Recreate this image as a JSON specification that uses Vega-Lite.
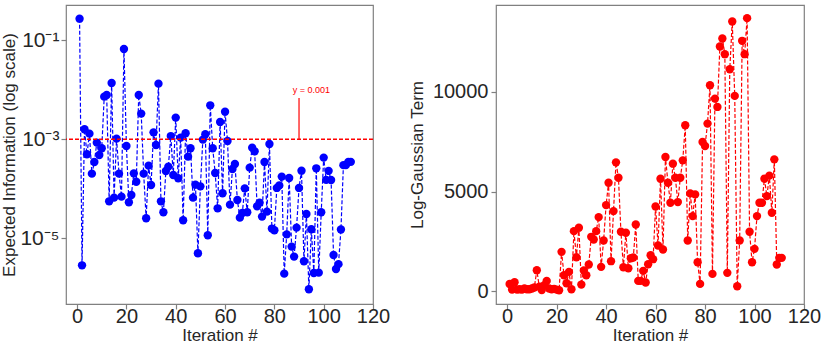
{
  "$schema": "https://vega.github.io/schema/vega-lite/v6.json",
  "padding": {"left": 0, "top": 4, "right": 2, "bottom": 0},
  "background": "white",
  "bounds": "flush",
  "spacing": 123,
  "config": {
    "font": "Liberation Sans",
    "view": {"stroke": "#808080", "strokeWidth": 1.2},
    "axis": {
      "grid": false,
      "domain": false,
      "tickColor": "#808080",
      "tickSize": 5,
      "tickWidth": 1.2,
      "labelFontSize": 20,
      "labelColor": "#262626",
      "labelOverlap": false,
      "labelFlush": false,
      "titleFontSize": 17,
      "titleFontWeight": "normal",
      "titleColor": "#262626",
      "labelFont": "Liberation Sans",
      "titleFont": "Liberation Sans"
    }
  },
  "datasets": {
    "info": [
      {"it": 1, "v": 0.273}, {"it": 2, "v": 2.84e-6}, {"it": 3, "v": 1.59e-3}, {"it": 4, "v": 4.97e-4}, {"it": 5, "v": 1.30e-3},
      {"it": 6, "v": 2.02e-4}, {"it": 7, "v": 3.48e-4}, {"it": 8, "v": 8.55e-4}, {"it": 9, "v": 4.82e-4}, {"it": 10, "v": 6.57e-4},
      {"it": 11, "v": 7.26e-3}, {"it": 12, "v": 7.85e-3}, {"it": 13, "v": 5.58e-5}, {"it": 14, "v": 1.37e-2}, {"it": 15, "v": 6.62e-5},
      {"it": 16, "v": 1.03e-3}, {"it": 17, "v": 2.02e-4}, {"it": 18, "v": 6.93e-5}, {"it": 19, "v": 6.68e-2}, {"it": 20, "v": 7.31e-4},
      {"it": 21, "v": 5.33e-5}, {"it": 22, "v": 7.49e-5}, {"it": 23, "v": 2.05e-4}, {"it": 24, "v": 1.39e-4}, {"it": 25, "v": 7.85e-3},
      {"it": 26, "v": 3.30e-3}, {"it": 27, "v": 2.02e-4}, {"it": 28, "v": 2.54e-5}, {"it": 29, "v": 2.93e-4}, {"it": 30, "v": 1.19e-4},
      {"it": 31, "v": 1.38e-3}, {"it": 32, "v": 7.67e-4}, {"it": 33, "v": 1.33e-2}, {"it": 34, "v": 5.58e-5}, {"it": 35, "v": 3.35e-5},
      {"it": 36, "v": 2.29e-4}, {"it": 37, "v": 2.80e-4}, {"it": 38, "v": 1.16e-3}, {"it": 39, "v": 1.90e-4}, {"it": 40, "v": 2.74e-3},
      {"it": 41, "v": 1.63e-4}, {"it": 42, "v": 1.08e-3}, {"it": 43, "v": 2.31e-5}, {"it": 44, "v": 1.32e-3}, {"it": 45, "v": 4.46e-4},
      {"it": 46, "v": 6.57e-4}, {"it": 47, "v": 6.62e-5}, {"it": 48, "v": 1.21e-4}, {"it": 49, "v": 4.97e-6}, {"it": 50, "v": 1.12e-4},
      {"it": 51, "v": 9.84e-4}, {"it": 52, "v": 1.26e-3}, {"it": 53, "v": 1.15e-5}, {"it": 54, "v": 4.85e-3}, {"it": 55, "v": 6.57e-4},
      {"it": 56, "v": 2.08e-4}, {"it": 57, "v": 4.03e-5}, {"it": 58, "v": 2.24e-3}, {"it": 59, "v": 8.10e-5}, {"it": 60, "v": 3.61e-3},
      {"it": 61, "v": 9.24e-4}, {"it": 62, "v": 4.78e-5}, {"it": 63, "v": 2.51e-4}, {"it": 64, "v": 3.17e-4}, {"it": 65, "v": 5.94e-5},
      {"it": 66, "v": 2.61e-5}, {"it": 67, "v": 3.25e-5}, {"it": 68, "v": 1.02e-4}, {"it": 69, "v": 3.35e-5}, {"it": 70, "v": 2.67e-4},
      {"it": 71, "v": 6.78e-4}, {"it": 72, "v": 5.71e-4}, {"it": 73, "v": 4.42e-5}, {"it": 74, "v": 5.25e-5}, {"it": 75, "v": 2.74e-5},
      {"it": 76, "v": 3.48e-4}, {"it": 77, "v": 3.45e-5}, {"it": 78, "v": 8.04e-4}, {"it": 79, "v": 1.57e-5}, {"it": 80, "v": 1.45e-5},
      {"it": 81, "v": 1.04e-4}, {"it": 82, "v": 1.17e-4}, {"it": 83, "v": 1.76e-4}, {"it": 84, "v": 1.93e-6}, {"it": 85, "v": 1.20e-5},
      {"it": 86, "v": 1.65e-4}, {"it": 87, "v": 6.78e-6}, {"it": 88, "v": 4.26e-6}, {"it": 89, "v": 1.64e-5}, {"it": 90, "v": 1.04e-4},
      {"it": 91, "v": 2.32e-4}, {"it": 92, "v": 3.43e-6}, {"it": 93, "v": 3.10e-5}, {"it": 94, "v": 9.31e-7}, {"it": 95, "v": 1.52e-5},
      {"it": 96, "v": 1.99e-6}, {"it": 97, "v": 2.59e-4}, {"it": 98, "v": 2.02e-6}, {"it": 99, "v": 3.35e-5}, {"it": 100, "v": 4.26e-4},
      {"it": 101, "v": 1.51e-4}, {"it": 102, "v": 2.3e-4}, {"it": 103, "v": 1.5e-4}, {"it": 104, "v": 4.6e-6}, {"it": 105, "v": 2.4e-6},
      {"it": 106, "v": 3.0e-6}, {"it": 107, "v": 1.5e-5}, {"it": 108, "v": 3.0e-4}, {"it": 109, "v": 3.0e-4}, {"it": 110, "v": 3.5e-4},
      {"it": 111, "v": 3.5e-4}
    ],
    "gauss": [
      {"it": 1, "v": 367}, {"it": 2, "v": 84}, {"it": 3, "v": 452}, {"it": 4, "v": 84}, {"it": 5, "v": 100},
      {"it": 6, "v": 84}, {"it": 7, "v": 140}, {"it": 8, "v": 100}, {"it": 9, "v": 100}, {"it": 10, "v": 140},
      {"it": 11, "v": 190}, {"it": 12, "v": 1055}, {"it": 13, "v": 230}, {"it": 14, "v": 60}, {"it": 15, "v": 300},
      {"it": 16, "v": 520}, {"it": 17, "v": 140}, {"it": 18, "v": 100}, {"it": 19, "v": 120}, {"it": 20, "v": 84},
      {"it": 21, "v": 50}, {"it": 22, "v": 1975}, {"it": 23, "v": 804}, {"it": 24, "v": 402}, {"it": 25, "v": 971},
      {"it": 26, "v": 100}, {"it": 27, "v": 3015}, {"it": 28, "v": 1708}, {"it": 29, "v": 3183}, {"it": 30, "v": 335},
      {"it": 31, "v": 1039}, {"it": 32, "v": 802}, {"it": 33, "v": 1340}, {"it": 34, "v": 2730}, {"it": 35, "v": 2596},
      {"it": 36, "v": 3015}, {"it": 37, "v": 3719}, {"it": 38, "v": 1223}, {"it": 39, "v": 2546}, {"it": 40, "v": 4322},
      {"it": 41, "v": 5444}, {"it": 42, "v": 1508}, {"it": 43, "v": 4020}, {"it": 44, "v": 6466}, {"it": 45, "v": 5695},
      {"it": 46, "v": 2982}, {"it": 47, "v": 1206}, {"it": 48, "v": 2932}, {"it": 49, "v": 1156}, {"it": 50, "v": 1658},
      {"it": 51, "v": 1692}, {"it": 52, "v": 3350}, {"it": 53, "v": 519}, {"it": 54, "v": 519}, {"it": 55, "v": 1022},
      {"it": 56, "v": 436}, {"it": 57, "v": 1356}, {"it": 58, "v": 1808}, {"it": 59, "v": 1608}, {"it": 60, "v": 4255},
      {"it": 61, "v": 2295}, {"it": 62, "v": 5645}, {"it": 63, "v": 2094}, {"it": 64, "v": 6734}, {"it": 65, "v": 5444},
      {"it": 66, "v": 4439}, {"it": 67, "v": 6399}, {"it": 68, "v": 5695}, {"it": 69, "v": 4473}, {"it": 70, "v": 5695},
      {"it": 71, "v": 6566}, {"it": 72, "v": 8325}, {"it": 73, "v": 2546}, {"it": 74, "v": 4908}, {"it": 75, "v": 3769},
      {"it": 76, "v": 4858}, {"it": 77, "v": 1457}, {"it": 78, "v": 368}, {"it": 79, "v": 7487}, {"it": 80, "v": 7286},
      {"it": 81, "v": 8409}, {"it": 82, "v": 10335}, {"it": 83, "v": 871}, {"it": 84, "v": 9665}, {"it": 85, "v": 9246},
      {"it": 86, "v": 12277}, {"it": 87, "v": 12680}, {"it": 88, "v": 11893}, {"it": 89, "v": 922}, {"it": 90, "v": 11139},
      {"it": 91, "v": 13533}, {"it": 92, "v": 9799}, {"it": 93, "v": 251}, {"it": 94, "v": 2546}, {"it": 95, "v": 12563},
      {"it": 96, "v": 11893}, {"it": 97, "v": 13701}, {"it": 98, "v": 2982}, {"it": 99, "v": 1457}, {"it": 100, "v": 2127},
      {"it": 101, "v": 3769}, {"it": 102, "v": 4439}, {"it": 103, "v": 4439}, {"it": 104, "v": 5645}, {"it": 105, "v": 4774},
      {"it": 106, "v": 5800}, {"it": 107, "v": 3936}, {"it": 108, "v": 6617}, {"it": 109, "v": 1340}, {"it": 110, "v": 1675},
      {"it": 111, "v": 1675}
    ],
    "thresh": [{"y": 0.001}],
    "annot": [{"x": 90, "y": 0.001, "y2": 0.0068, "tx": 95, "ty": 0.0097, "label": "y = 0.001"}]
  },
  "hconcat": [
    {
      "width": 307,
      "height": 299,
      "layer": [
        {
          "data": {"name": "info"},
          "mark": {"type": "line", "color": "#0000ff", "strokeWidth": 1.2, "strokeDash": [4, 2]},
          "encoding": {
            "x": {"field": "it", "type": "quantitative", "scale": {"domain": [-4.5, 120], "nice": false, "zero": false},
                  "axis": {"values": [0, 20, 40, 60, 80, 100, 120], "title": "Iteration #", "labelPadding": -3, "titlePadding": 1}},
            "y": {"field": "v", "type": "quantitative",
                  "scale": {"type": "log", "domain": [4.7e-7, 0.516], "nice": false},
                  "axis": {"values": [1e-5, 1e-3, 1e-1], "title": "Expected Information (log scale)",
                           "labelExpr": "datum.value < 5e-5 ? '10⁻⁵' : datum.value < 5e-3 ? '10⁻³' : '10⁻¹'",
                           "labelFontSize": 21, "labelPadding": 2, "titlePadding": 1}}
          }
        },
        {
          "data": {"name": "info"},
          "mark": {"type": "point", "filled": true, "color": "#0000ff", "size": 70, "opacity": 1},
          "encoding": {
            "x": {"field": "it", "type": "quantitative"},
            "y": {"field": "v", "type": "quantitative"}
          }
        },
        {
          "data": {"name": "thresh"},
          "mark": {"type": "rule", "color": "#ff0000", "strokeWidth": 1.3, "strokeDash": [4, 2]},
          "encoding": {"y": {"field": "y", "type": "quantitative"}}
        },
        {
          "data": {"name": "annot"},
          "mark": {"type": "rule", "color": "#ff0000", "strokeWidth": 1.2},
          "encoding": {
            "x": {"field": "x", "type": "quantitative"},
            "y": {"field": "y", "type": "quantitative"},
            "y2": {"field": "y2"}
          }
        },
        {
          "data": {"name": "annot"},
          "mark": {"type": "text", "color": "#ff0000", "fontSize": 9, "align": "center", "baseline": "middle"},
          "encoding": {
            "x": {"field": "tx", "type": "quantitative"},
            "y": {"field": "ty", "type": "quantitative"},
            "text": {"field": "label"}
          }
        }
      ]
    },
    {
      "width": 308,
      "height": 299,
      "data": {"name": "gauss"},
      "layer": [
        {
          "mark": {"type": "line", "color": "#ff0000", "strokeWidth": 1.2, "strokeDash": [4, 2]},
          "encoding": {
            "x": {"field": "it", "type": "quantitative", "scale": {"domain": [-4.5, 120], "nice": false, "zero": false},
                  "axis": {"values": [0, 20, 40, 60, 80, 100, 120], "title": "Iteration #", "labelPadding": -3, "titlePadding": 1}},
            "y": {"field": "v", "type": "quantitative", "scale": {"domain": [-640, 14360], "nice": false, "zero": false},
                  "axis": {"values": [0, 5000, 10000], "format": "d", "title": "Log-Gaussian Term", "labelPadding": 3, "titlePadding": 6}}
          }
        },
        {
          "mark": {"type": "point", "filled": true, "color": "#ff0000", "size": 70, "opacity": 1},
          "encoding": {
            "x": {"field": "it", "type": "quantitative"},
            "y": {"field": "v", "type": "quantitative"}
          }
        }
      ]
    }
  ]
}
